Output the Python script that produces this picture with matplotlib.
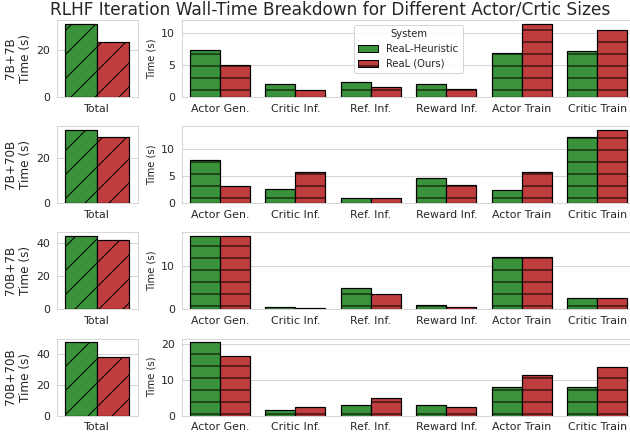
import numpy as np
import matplotlib.pyplot as plt
import seaborn as sns
from matplotlib.patches import Patch

sns.set_style("whitegrid")
plt.rcParams["font.family"] = ["DejaVu Sans"]

# Data
settings = ["7B+7B", "7B+70B", "70B+7B", "70B+70B"]
stages = ["Actor Gen.", "Critic Inf.", "Ref. Inf.", "Reward Inf.", "Actor Train", "Critic Train"]
systems = ["ReaL-Heuristic", "ReaL (Ours)"]

heuristic_total = [31.4, 32.9, 44.2, 47.7]
real_total = [23.4, 29.5, 41.8, 38.3]

heuristic_stage = [
    [7.36, 2.08, 2.28, 2.02, 6.89, 7.10],
    [8.00, 2.55, 0.93, 4.65, 2.36, 12.3],
    [17.0, 0.50, 4.85, 0.86, 12.1, 2.50],
    [20.4, 1.60, 3.05, 2.80, 8.05, 8.05],
]
real_stage = [
    [4.92, 1.15, 1.60, 1.19, 11.4, 10.36],
    [3.17, 5.84, 0.87, 3.30, 5.71, 13.65],
    [17.15, 0.30, 3.50, 0.40, 12.1, 2.50],
    [16.5, 2.50, 5.00, 2.50, 11.35, 13.55],
]

colors = ["#3a923a", "#c03d3e"]

W, H = 630, 436
fig = plt.figure(figsize=(W / 72, H / 72), dpi=72)

tops = [20, 126, 232, 338.5]
row_h = 77

for i, setting in enumerate(settings):
    bottom = 1 - (tops[i] + row_h) / H
    ax_l = fig.add_axes([57 / W, bottom, 80.5 / W, row_h / H])
    ax_r = fig.add_axes([182 / W, bottom, 453 / W, row_h / H])

    # Total time
    ax_l.bar(-0.2, heuristic_total[i], 0.4, color=colors[0], edgecolor="black",
             linewidth=1.2, hatch="/")
    ax_l.bar(0.2, real_total[i], 0.4, color=colors[1], edgecolor="black",
             linewidth=1.2, hatch="/")
    ax_l.set_xlim(-0.5, 0.5)
    ax_l.set_xticks([0])
    ax_l.set_xticklabels(["Total"], fontsize=11)
    ax_l.tick_params(axis="y", labelsize=11)
    ax_l.set_ylabel(setting + "\nTime (s)", fontsize=12)
    ax_l.xaxis.grid(False)

    # Per-stage breakdown
    x = np.arange(len(stages))
    ax_r.bar(x - 0.2, heuristic_stage[i], 0.4, color=colors[0], edgecolor="black",
             linewidth=1.2, hatch="-")
    ax_r.bar(x + 0.2, real_stage[i], 0.4, color=colors[1], edgecolor="black",
             linewidth=1.2, hatch="-")
    ax_r.set_xlim(-0.5, len(stages) - 0.5)
    ax_r.set_xticks(x)
    ax_r.set_xticklabels(stages, fontsize=11)
    ax_r.tick_params(axis="y", labelsize=11)
    ax_r.set_ylabel("Time (s)", fontsize=10)
    ax_r.xaxis.grid(False)

    if i == 0:
        handles = [Patch(facecolor=c, edgecolor="black", hatch="-", label=s)
                   for c, s in zip(colors, systems)]
        ax_r.legend(handles=handles, title="System", loc="upper center",
                    fontsize=10, title_fontsize=10)

fig.suptitle("RLHF Iteration Wall-Time Breakdown for Different Actor/Crtic Sizes",
             x=330 / W, y=1, va="top", fontsize=17)

fig.savefig("out.png", dpi=72)
